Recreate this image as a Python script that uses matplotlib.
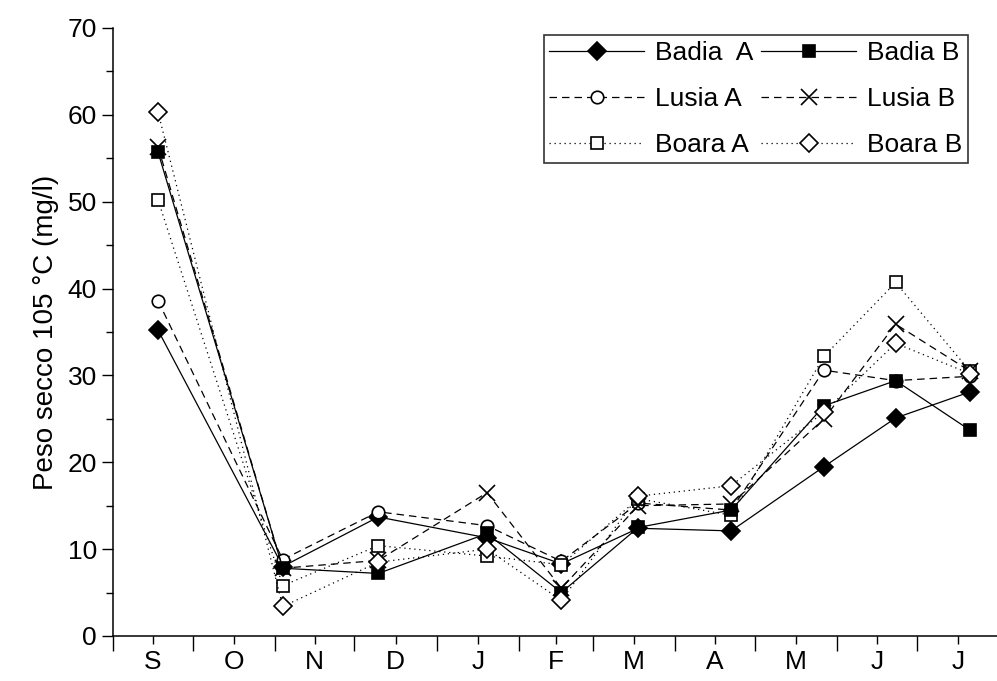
import numpy as np
import matplotlib
matplotlib.use("Agg")
import matplotlib.pyplot as plt

plt.rcParams["font.family"] = ["Liberation Sans", "DejaVu Sans"]

# sampling days, counted from 1 September
sample_days = [17, 64, 100, 141, 169, 198, 233, 268, 295, 323]

month_labels = ["S", "O", "N", "D", "J", "F", "M", "A", "M", "J", "J"]
month_days = [30, 31, 30, 31, 31, 28, 31, 30, 31, 30, 31]

badia_a = [35.2, 8.0, 13.7, 11.3, 8.3, 12.4, 12.1, 19.5, 25.1, 28.1]
badia_b = [55.7, 7.8, 7.2, 11.8, 5.0, 12.5, 14.5, 26.5, 29.4, 23.7]
lusia_a = [38.6, 8.8, 14.3, 12.7, 8.6, 15.3, 14.5, 30.6, 29.4, 29.9]
lusia_b = [56.3, 7.8, 8.7, 16.5, 5.5, 15.0, 15.2, 25.0, 35.9, 30.5]
boara_a = [50.2, 5.8, 10.4, 9.2, 8.2, 15.8, 13.9, 32.2, 40.7, 30.5]
boara_b = [60.3, 3.4, 8.5, 10.0, 4.1, 16.1, 17.3, 25.8, 33.7, 30.2]

series = [
    ("Badia  A", badia_a, "-", "D", "black"),
    ("Lusia A", lusia_a, (0, (6, 4)), "o", "white"),
    ("Boara A", boara_a, (0, (1, 3)), "s", "white"),
    ("Badia B", badia_b, "-", "s", "black"),
    ("Lusia B", lusia_b, (0, (6, 4)), "x", "black"),
    ("Boara B", boara_b, (0, (1, 3)), "D", "white"),
]

fig = plt.figure(figsize=(9.97, 6.81), dpi=100)
ax = fig.add_axes([0.1133, 0.0661, 0.8867, 0.8928])

for label, vals, ls, mk, fc in series:
    ms = 9 if mk != "x" else 11
    ax.plot(sample_days, vals, linestyle=ls, color="black", linewidth=0.9,
            marker=mk, markersize=ms, markerfacecolor=fc,
            markeredgecolor="black", markeredgewidth=1.2, label=label)

edges = np.concatenate([[0], np.cumsum(month_days)])
mids = (edges[:-1] + edges[1:]) / 2

ax.set_xlim(0, 333.2)
ax.set_ylim(0, 70)
ax.set_xticks(edges[:-1])
ax.set_xticklabels([])
ax.set_xticks(mids, minor=True)
ax.set_xticklabels(month_labels, minor=True)
ax.tick_params(axis="x", which="major", length=11, width=1, direction="out")
ax.tick_params(axis="x", which="minor", length=6, width=1, direction="out",
               labelsize=19, pad=4)

ax.set_yticks(np.arange(0, 71, 10))
ax.set_yticks(np.arange(5, 70, 10), minor=True)
ax.tick_params(axis="y", which="major", length=8, width=1, labelsize=19)
ax.tick_params(axis="y", which="minor", length=5, width=1)

ax.spines["top"].set_visible(False)
ax.spines["right"].set_visible(False)
ax.spines["left"].set_linewidth(1.1)
ax.spines["bottom"].set_linewidth(1.1)

ax.set_ylabel("Peso secco 105 °C (mg/l)", fontsize=20, labelpad=6)

leg = ax.legend(ncol=2, loc="upper right", bbox_to_anchor=(0.967, 0.988),
                fontsize=19, frameon=True, fancybox=False, handlelength=3.6,
                columnspacing=0.3, handletextpad=0.4, borderpad=0.22,
                labelspacing=0.83, borderaxespad=0)
leg.get_frame().set_edgecolor("black")
leg.get_frame().set_linewidth(1.2)

fig.savefig("out.png", dpi=100)
